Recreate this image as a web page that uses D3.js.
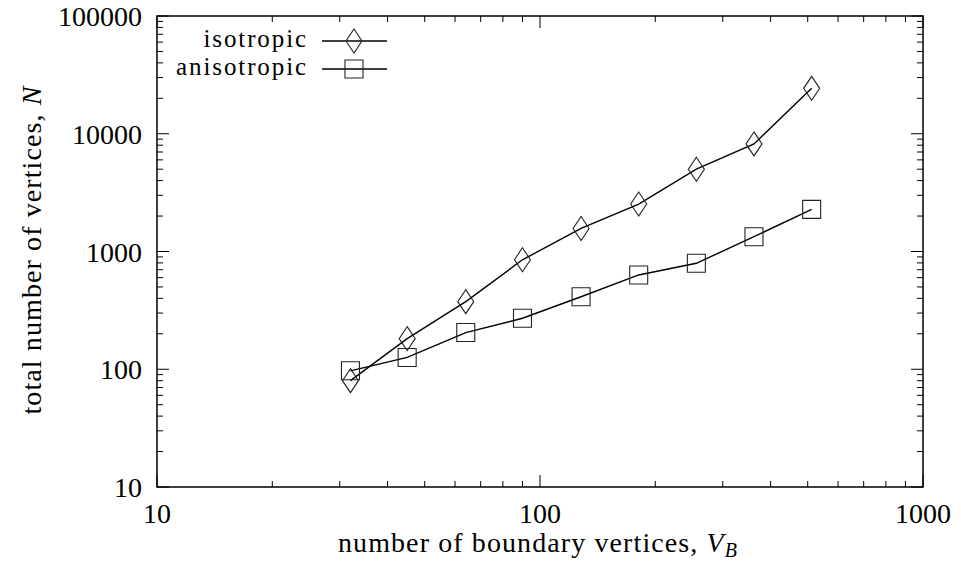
<!DOCTYPE html>
<html><head><meta charset="utf-8">
<script src="https://cdn.jsdelivr.net/npm/d3@7"></script>
<style>body{margin:0;background:#fff}svg text{font-family:"Liberation Serif","DejaVu Serif",serif;fill:#000}</style>
</head><body><svg id="c" width="961" height="570"></svg>
<script>
const xValues = [32, 45, 64, 90, 128, 181, 256, 362, 512];
const isotropic = [80, 182, 375, 850, 1570, 2530, 5000, 8200, 24300];
const anisotropic = [97, 126, 205, 271, 413, 632, 794, 1336, 2280];
const xTickLabels = [10, 100, 1000];
const yTickLabels = [10, 100, 1000, 10000, 100000];
const seriesNames = ["isotropic", "anisotropic"];

const svg = d3.select("#c");
const L = 157, R = 923, T = 16, B = 487;
const x = d3.scaleLog().domain([10, 1000]).range([L, R]);
const y = d3.scaleLog().domain([10, 100000]).range([B, T]);
const fs = 28, ls = 1.1;

const xMinor = [], yMinor = [];
for (let d = 10; d < 1000; d *= 10) for (let k = 2; k <= 9; k++) xMinor.push(d * k);
for (let d = 10; d < 100000; d *= 10) for (let k = 2; k <= 9; k++) yMinor.push(d * k);

const g = svg.append("g").attr("stroke", "#000").attr("stroke-width", 1);
xMinor.forEach(v => {
  g.append("line").attr("x1", x(v)).attr("x2", x(v)).attr("y1", B).attr("y2", B - 6);
  g.append("line").attr("x1", x(v)).attr("x2", x(v)).attr("y1", T).attr("y2", T + 6);
});
xTickLabels.forEach(v => {
  g.append("line").attr("x1", x(v)).attr("x2", x(v)).attr("y1", B).attr("y2", B - 12);
  g.append("line").attr("x1", x(v)).attr("x2", x(v)).attr("y1", T).attr("y2", T + 12);
});
yMinor.forEach(v => {
  g.append("line").attr("y1", y(v)).attr("y2", y(v)).attr("x1", L).attr("x2", L + 6);
  g.append("line").attr("y1", y(v)).attr("y2", y(v)).attr("x1", R).attr("x2", R - 6);
});
yTickLabels.forEach(v => {
  g.append("line").attr("y1", y(v)).attr("y2", y(v)).attr("x1", L).attr("x2", L + 12);
  g.append("line").attr("y1", y(v)).attr("y2", y(v)).attr("x1", R).attr("x2", R - 12);
});
svg.append("rect").attr("x", L).attr("y", T).attr("width", R - L).attr("height", B - T)
  .attr("fill", "none").attr("stroke", "#000").attr("stroke-width", 1.5);

xTickLabels.forEach(v => svg.append("text").attr("x", x(v)).attr("y", B + 36)
  .attr("text-anchor", "middle").attr("font-size", fs).text(v));
yTickLabels.forEach(v => svg.append("text").attr("x", 142).attr("y", y(v) + 10)
  .attr("text-anchor", "end").attr("font-size", fs).text(v));

const xt = svg.append("text").attr("x", 538).attr("y", 552).attr("text-anchor", "middle")
  .attr("font-size", fs).attr("letter-spacing", ls);
xt.append("tspan").text("number of boundary vertices, ");
xt.append("tspan").attr("font-style", "italic").text("V");
xt.append("tspan").attr("font-style", "italic").attr("font-size", 20).attr("dy", 5).text("B");
const yt = svg.append("text").attr("transform", "translate(41,250) rotate(-90)").attr("text-anchor", "middle")
  .attr("font-size", fs).attr("letter-spacing", ls);
yt.append("tspan").text("total number of vertices, ");
yt.append("tspan").attr("font-style", "italic").text("N");

const line = d3.line().x(d => x(d[0])).y(d => y(d[1]));
const diamond = (cx, cy) => `M${cx},${cy - 12}L${cx + 8},${cy}L${cx},${cy + 12}L${cx - 8},${cy}Z`;
const square = (cx, cy) => `M${cx - 9},${cy - 9}h18v18h-18Z`;
const series = [
  { name: seriesNames[0], vals: isotropic, shape: diamond },
  { name: seriesNames[1], vals: anisotropic, shape: square }
];
series.forEach((s, i) => {
  const pts = xValues.map((v, j) => [v, s.vals[j]]);
  svg.append("path").attr("d", line(pts)).attr("fill", "none").attr("stroke", "#000").attr("stroke-width", 1.4);
  pts.forEach(p => svg.append("path").attr("d", s.shape(x(p[0]), y(p[1])))
    .attr("fill", "none").attr("stroke", "#222").attr("stroke-width", 1.1));
  const ly = 41 + i * 28;
  svg.append("text").attr("x", 308).attr("y", ly + 6).attr("text-anchor", "end")
    .attr("font-size", 25).attr("letter-spacing", 1.9).text(s.name);
  svg.append("line").attr("x1", 322).attr("x2", 387).attr("y1", ly).attr("y2", ly).attr("stroke", "#000").attr("stroke-width", 1.4);
  svg.append("path").attr("d", s.shape(354, ly)).attr("fill", "none").attr("stroke", "#222").attr("stroke-width", 1.1);
});
</script></body></html>
